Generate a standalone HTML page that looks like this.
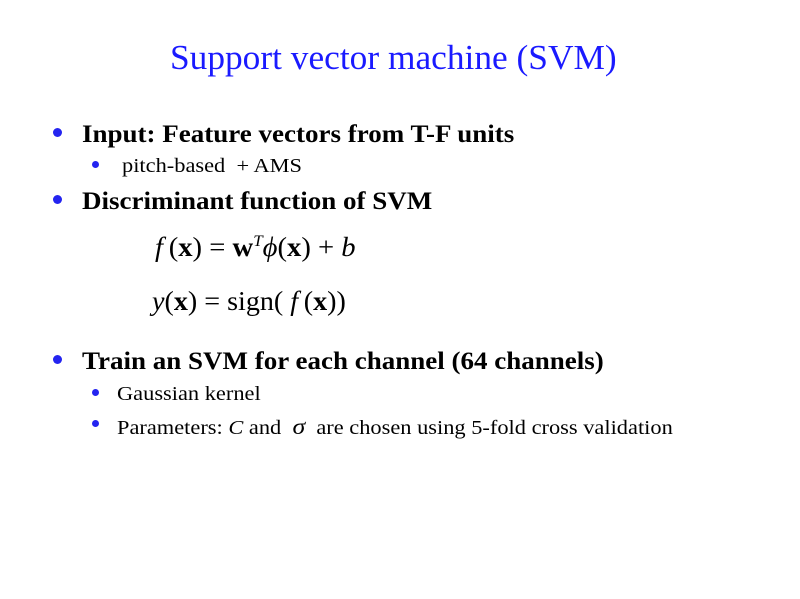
<!DOCTYPE html>
<html><head><meta charset="utf-8"><style>
body{margin:0;width:800px;height:599px;background:#fff;overflow:hidden;position:relative;font-family:"Liberation Serif",serif;color:#000}
.t{position:absolute;line-height:1;white-space:nowrap;transform-origin:0 0}
.d{position:absolute;border-radius:50%;background:#2424f0}
.b{font-weight:bold;font-size:25px;transform:scaleX(1.08)}
.s{font-size:20px;transform:scaleX(1.12)}
.m{font-size:27px}
</style></head><body>
<div class="t" style="left:170px;top:40px;font-size:35px;color:#1a1aff;transform:scaleX(1.01)">Support vector machine (SVM)</div>

<div class="d" style="left:53px;top:128px;width:9px;height:9px"></div>
<div class="t b" style="left:82px;top:122px">Input: Feature vectors from T-F units</div>
<div class="d" style="left:92px;top:161px;width:7px;height:7px"></div>
<div class="t s" style="left:122px;top:156px">pitch-based &nbsp;+ AMS</div>
<div class="d" style="left:53px;top:195px;width:9px;height:9px"></div>
<div class="t b" style="left:82px;top:189px">Discriminant function of SVM</div>

<div class="t m" style="left:155px;top:234px;transform:scaleX(1.06)"><i>f</i>&thinsp;(<b>x</b>) = <b>w</b><sup style="font-size:16px;font-style:italic;vertical-align:10px">T</sup><i>ϕ</i>(<b>x</b>) + <i>b</i></div>
<div class="t m" style="left:152px;top:288px;transform:scaleX(1.04)"><i>y</i>(<b>x</b>) = sign( <i>f</i>&thinsp;(<b>x</b>))</div>

<div class="d" style="left:53px;top:355px;width:9px;height:9px"></div>
<div class="t b" style="left:82px;top:349px">Train an SVM for each channel (64 channels)</div>
<div class="d" style="left:92px;top:389px;width:7px;height:7px"></div>
<div class="t s" style="left:117px;top:384px">Gaussian kernel</div>
<div class="d" style="left:92px;top:420px;width:7px;height:7px"></div>
<div class="t s" style="left:117px;top:415px">Parameters: <i>C</i> and &nbsp;<i style="font-size:23px">σ</i> &nbsp;are chosen using 5-fold cross validation</div>
</body></html>
